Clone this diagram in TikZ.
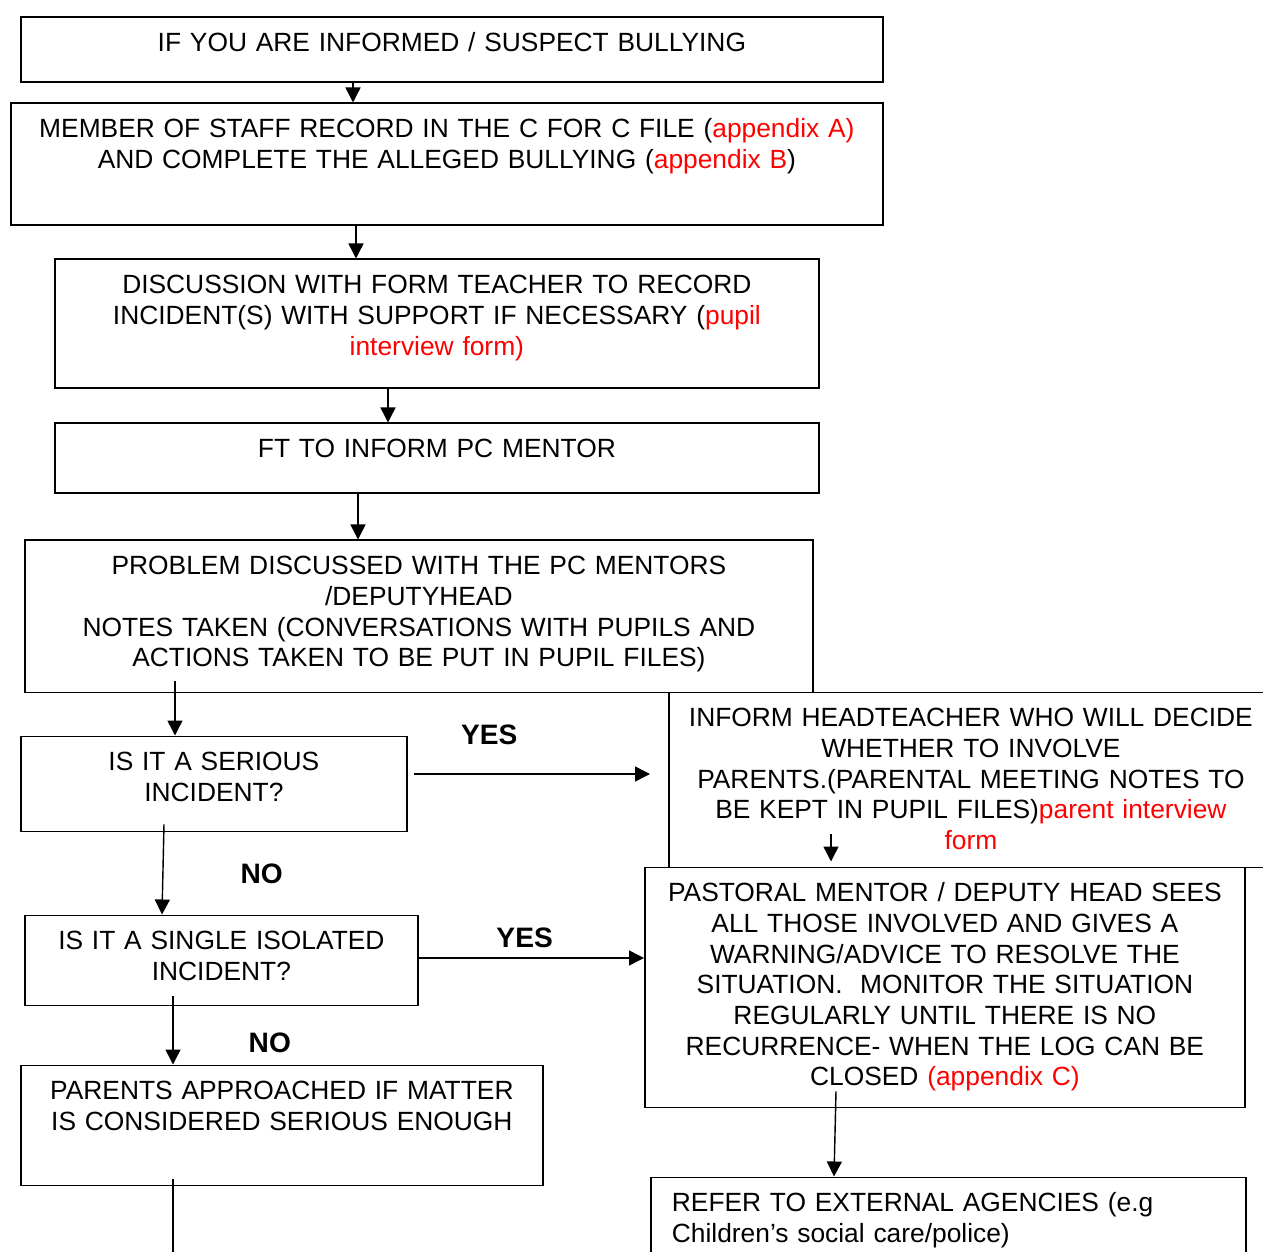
\documentclass[tikz,border=0pt]{standalone}
\usepackage{fontspec}
\setmainfont{Liberation Sans}
\usepackage{tikz}
\usetikzlibrary{arrows.meta, calc}
\definecolor{refred}{RGB}{255, 0, 0}
\newcommand{\red}[1]{\textcolor{refred}{#1}}
\tikzset{
  stepbox/.style 2 args={
    draw=black,
    line width=1pt,
    inner sep=0pt,
    anchor=north west,
    align=center,
    text width=#1,
    text height=0.69cm,
    text depth=#2,
    font=\fontsize{15}{17.45}\selectfont
  },
  flow/.style={
    -{Triangle[length=0.3cm, width=0.3cm]},
    line width=0.8pt,
    draw=black
  },
  answer/.style={
    inner sep=0pt,
    font=\fontsize{16}{18}\selectfont\bfseries
  }
}

\begin{document}
\begin{tikzpicture}
          \useasboundingbox (0, 0) rectangle (25.26, -25.04);

          \node[stepbox={17.24cm}{0.61cm}] (suspect) at (0.4, -0.33) {IF YOU ARE INFORMED / SUSPECT BULLYING};
          \node[stepbox={17.44cm}{1.75cm}] (record) at (0.2, -2.05) {MEMBER OF STAFF RECORD IN THE C FOR C FILE (\red{appendix A)}\\AND COMPLETE THE ALLEGED BULLYING (\red{appendix B})};
          \node[stepbox={15.28cm}{1.89cm}] (discuss) at (1.08, -5.17) {DISCUSSION WITH FORM TEACHER TO RECORD\\INCIDENT(S) WITH SUPPORT IF NECESSARY (\red{pupil}\\\red{interview form)}};
          \node[stepbox={15.28cm}{0.71cm}] (mentor) at (1.08, -8.45) {FT TO INFORM PC MENTOR};
          \node[stepbox={15.76cm}{2.35cm}] (problem) at (0.48, -10.79) {PROBLEM DISCUSSED WITH THE PC MENTORS\\/DEPUTYHEAD\\NOTES TAKEN (CONVERSATIONS WITH PUPILS AND\\ACTIONS TAKEN TO BE PUT IN PUPIL FILES)};
          \node[stepbox={7.72cm}{1.21cm}] (serious) at (0.4, -14.71) {IS IT A SERIOUS\\INCIDENT?};
          \node[stepbox={12.08cm}{2.81cm}] (inform) at (13.36, -13.83) {INFORM HEADTEACHER WHO WILL DECIDE\\WHETHER TO INVOLVE\\PARENTS.(PARENTAL MEETING NOTES TO\\BE KEPT IN PUPIL FILES)\red{parent interview}\\\red{form}};
          \node[stepbox={7.86cm}{1.11cm}] (single) at (0.48, -18.29) {IS IT A SINGLE ISOLATED\\INCIDENT?};
          \node[stepbox={12cm}{4.11cm}] (pastoral) at (12.88, -17.33) {PASTORAL MENTOR / DEPUTY HEAD SEES\\ALL THOSE INVOLVED AND GIVES A\\WARNING/ADVICE TO RESOLVE THE\\SITUATION.\ \ MONITOR THE SITUATION\\REGULARLY UNTIL THERE IS NO\\RECURRENCE- WHEN THE LOG CAN BE\\CLOSED \red{(appendix C)}};
          \node[stepbox={10.44cm}{1.71cm}] (parents) at (0.4, -21.29) {PARENTS APPROACHED IF MATTER\\IS CONSIDERED SERIOUS ENOUGH};
          \node[stepbox={11.06cm}{1.71cm}, inner xsep=0.42cm, align=left] (refer) at (13, -23.53) {REFER TO EXTERNAL AGENCIES (e.g\\Children’s social care/police)};
          \coordinate (exit) at (3.46, -25.2);

          % main line down
          \draw[flow] (suspect.south -| 7.06,0) -- (record.north -| 7.06,0);
          \draw[flow] (record.south -| 7.12,0) -- (discuss.north -| 7.12,0);
          \draw[flow] (discuss.south -| 7.76,0) -- (mentor.north -| 7.76,0);
          \draw[flow] (mentor.south -| 7.16,0) -- (problem.north -| 7.16,0);
          \draw[flow] ($(problem.south -| 3.5,0)+(0,0.24)$) -- (serious.north -| 3.5,0);

          % decisions
          \draw[flow] ($(serious.east |- 0,-15.48)+(0.12,0)$) -- node[answer, pos=0.32, above=0.58cm] (yes1) {YES} ($(inform.west |- 0,-15.48)+(-0.36,0)$);
          \draw[flow] ($(serious.south -| 3.28,0)+(0,0.16)$) -- node[answer, pos=0.55, right=1.54cm] (no1) {NO} (single.north -| 3.24,0);
          \draw[flow] ($(inform.south -| 16.62,0)+(0,0.68)$) -- ($(pastoral.north -| 16.62,0)+(0,0.1)$);
          \draw[flow] (single.east |- 0,-19.16) -- node[answer, pos=0.47, above=0.2cm] (yes2) {YES} (pastoral.west |- 0,-19.16);
          \draw[flow] ($(single.south -| 3.46,0)+(0,0.2)$) -- node[answer, pos=0.68, right=1.5cm] (no2) {NO} (parents.north -| 3.46,0);
          \draw[flow] ($(pastoral.south -| 16.72,0)+(0,0.34)$) -- (refer.north -| 16.68,0);
          \draw[line width=0.8pt] ($(parents.south -| 3.46,0)+(0,0.14)$) -- (exit);
        \end{tikzpicture}
\end{document}
